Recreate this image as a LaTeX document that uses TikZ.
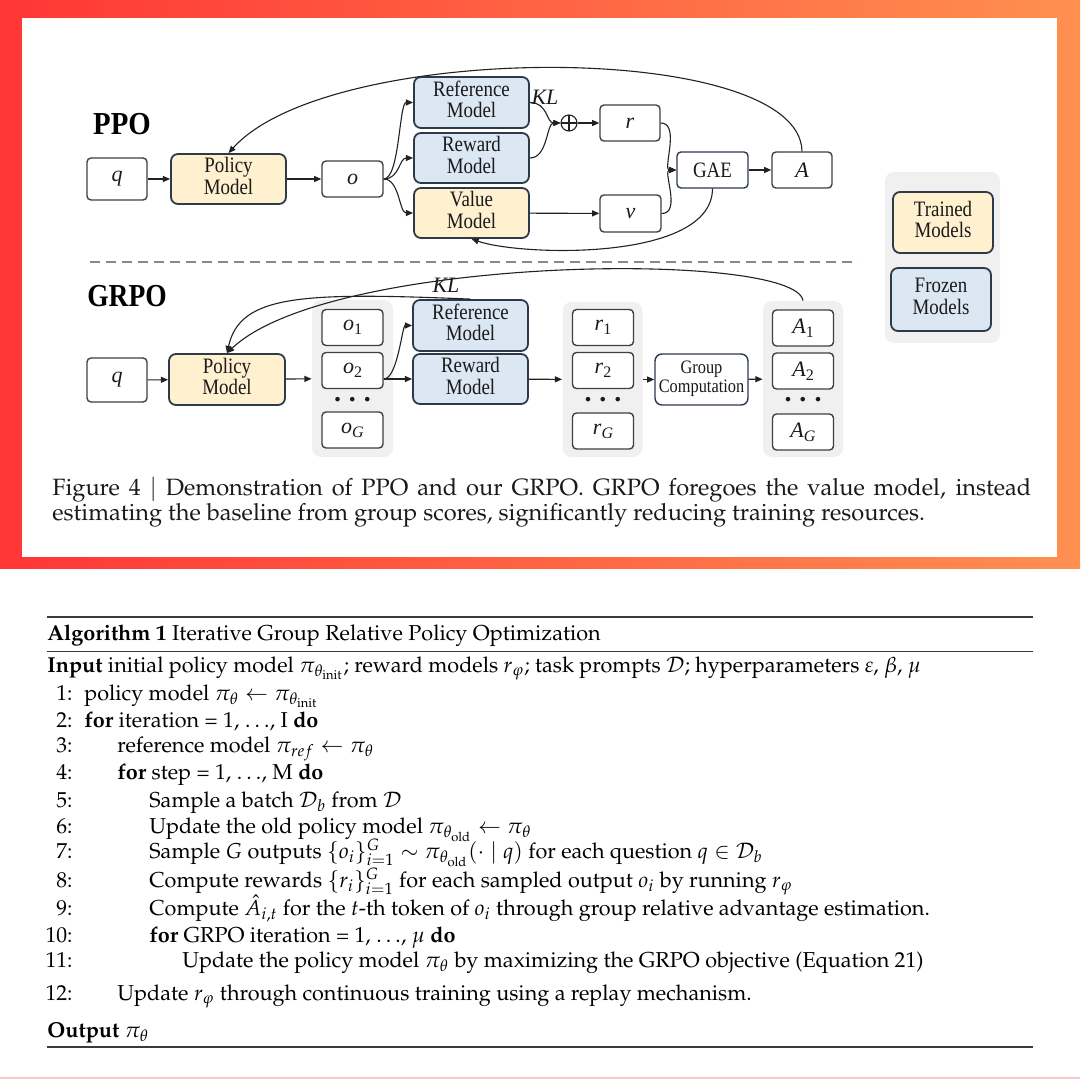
\documentclass[tikz,border=0pt]{standalone}
\usepackage{mathpazo}
\usepackage[no-math]{fontspec}
\setmainfont{Liberation Serif}
\usetikzlibrary{arrows.meta,calc}
\newcommand\algfont{\fontencoding{OT1}\fontfamily{ppl}\fontsize{10.8}{13}\selectfont}
\newcommand\capfont{\fontencoding{OT1}\fontfamily{ppl}\fontsize{11.8}{12.5}\selectfont}
\newcommand\sqz[2][0.86]{\scalebox{#1}[1]{#2}}
\newcommand\stk[1]{\begin{tabular}{@{}c@{}}#1\end{tabular}}
\newcommand\dg{\fontsize{11}{10.5}\selectfont}
\newcommand\sbs[2]{\textit{#1}\raisebox{-0.4ex}{\fontsize{8}{8}\selectfont #2}}
\definecolor{frameRed}{HTML}{FF3636}
\definecolor{frameOrange}{HTML}{FF9050}
\definecolor{trainedFill}{HTML}{FFF0CF}
\definecolor{frozenFill}{HTML}{DCE7F4}
\definecolor{boxBorder}{HTML}{2E3A4A}
\definecolor{smallBorder}{HTML}{404040}
\definecolor{panelGray}{HTML}{F0F0F0}
\definecolor{dashGray}{HTML}{8A8A8A}
\definecolor{ruleInk}{HTML}{3A3A3A}
\definecolor{arrowInk}{HTML}{222222}
\definecolor{inkText}{HTML}{1A1A1A}
\definecolor{pinkLine}{HTML}{F6CACA}
\tikzset{
  dims/.style 2 args={minimum width=#1*0.5pt, minimum height=#2*0.5pt},
  modelbox/.style={draw=boxBorder, line width=0.9pt, rounded corners=3.5pt, inner sep=0pt, align=center, font=\dg, text=inkText},
  trained/.style={modelbox, fill=trainedFill},
  frozen/.style={modelbox, fill=frozenFill},
  whitemodel/.style={modelbox, fill=white, line width=0.7pt},
  smallbox/.style={draw=smallBorder, line width=0.7pt, rounded corners=2pt, fill=white, inner sep=0pt, font=\fontsize{11}{11}\selectfont, text=inkText, dims={61}{36}},
  panel/.style={fill=panelGray, rounded corners=4.5pt, inner sep=0pt, draw=none},
  arr/.style={draw=arrowInk, line width=0.55pt, -{Triangle[length=3.6pt,width=3pt]}},
  conn/.style={draw=arrowInk, line width=0.55pt},
  dotsnode/.style={inner sep=0pt, font=\fontsize{14}{14}\selectfont\bfseries, text=inkText},
  heading/.style={inner sep=0pt, font=\fontsize{16}{16}\selectfont\bfseries, text=black},
  kllabel/.style={inner sep=0pt, font=\fontsize{11}{11}\selectfont\itshape, text=inkText},
  oplusnode/.style={draw=arrowInk, line width=0.55pt, circle, minimum size=8pt, inner sep=0pt,
    path picture={\draw[arrowInk, line width=0.55pt] (path picture bounding box.north) -- (path picture bounding box.south) (path picture bounding box.west) -- (path picture bounding box.east);}},
  algo/.style={anchor=base west, inner sep=0pt, font=\algfont, text=black},
  lnum/.style={anchor=base east, inner sep=0pt, font=\algfont, text=black},
}
\newcommand\dotstext{.\hspace{4pt}.\hspace{4pt}.}
\begin{document}
\begin{tikzpicture}[x=0.5pt,y=-0.5pt]
\useasboundingbox (0,0) rectangle (1080,1080);
% background frame
\shade[left color=frameRed, right color=frameOrange] (0,0) rectangle (1080,569);
\fill[white] (22,18) rectangle (1057,557);
\fill[white] (0,569) rectangle (1080,1080);
\draw[pinkLine, line width=1pt] (0,1078) -- (1080,1078);

% ================= PPO =================
\node[heading] (ppolabel) at (122,124) {\sqz[0.9]{PPO}};
\node[smallbox, dims={60}{42}] (q1) at (117,179) {\textit{q}};
\node[trained, dims={115}{50}] (pol1) at (228.5,179) {\sqz{\stk{Policy\\Model}}};
\node[smallbox] (o) at (352.5,179) {\textit{o}};
\node[frozen, dims={115}{51}] (ref1) at (471.5,102.5) {\sqz{\stk{Reference\\Model}}};
\node[frozen, dims={115}{50}] (rew1) at (471.5,158) {\sqz{\stk{Reward\\Model}}};
\node[trained, dims={115}{50}] (val1) at (471.5,213) {\sqz{\stk{Value\\Model}}};
\node[kllabel] (kl1) at (545,97) {KL};
\node[oplusnode] (plus) at (569,123) {};
\node[smallbox, dims={60}{36}] (r) at (630,123) {\textit{r}};
\node[smallbox, dims={61}{37}] (v) at (630.5,213.5) {\textit{v}};
\node[whitemodel, dims={71}{36}, rounded corners=2pt] (gae) at (712.5,170) {\sqz{GAE}};
\node[smallbox, dims={60}{36}] (A) at (802,170) {\textit{A}};

\draw[arr] (q1) -- (pol1);
\draw[arr] (pol1) -- (o);
\draw[arr] (o.east) .. controls +(16,0) and +(-14,0) .. (ref1.west);
\draw[arr] (o.east) .. controls +(16,0) and +(-14,0) .. (rew1.west);
\draw[arr] (o.east) .. controls +(16,0) and +(-14,0) .. (val1.west);
\draw[arr] (ref1.east) .. controls +(18,0) and +(-14,0) .. (plus.west);
\draw[arr] (rew1.east) .. controls +(18,0) and +(-14,0) .. (plus.west);
\draw[arr] (plus) -- (r);
\draw[arr] (val1) -- (v);
\draw[arr] (r.east) .. controls +(20,0) and +(-14,0) .. (gae.west);
\draw[arr] (v.east) .. controls +(20,0) and +(-14,0) .. (gae.west);
\draw[arr] (gae) -- (A);
\draw[arr] (gae.south) .. controls (712,262) and (520,256) .. (val1.south);
\draw[arr] (A.north) .. controls (800,40) and (330,40) .. (pol1.north);

% separator
\draw[dashGray, line width=1pt, dash pattern=on 5pt off 3pt] (90,262) -- (858,262);

% ================= GRPO =================
\node[heading] (grpolabel) at (127,296) {\sqz{GRPO}};
\node[smallbox, dims={60}{44}] (q2) at (117,380) {\textit{q}};
\node[trained, dims={116}{51}] (pol2) at (227,379.5) {\sqz{\stk{Policy\\Model}}};

\node[panel, dims={81}{157}] (opanel) at (352.5,378.5) {};
\node[smallbox] (o1) at (352.5,327.5) {\sbs{o}{1}};
\node[smallbox] (o2) at (352.5,370.5) {\sbs{o}{2}};
\node[dotsnode] (odots) at (352.5,400) {\dotstext};
\node[smallbox] (oG) at (352.5,430) {\sbs{o}{\textit{G}}};

\node[frozen, dims={115}{51}] (ref2) at (470.5,325.5) {\sqz{\stk{Reference\\Model}}};
\node[frozen, dims={115}{50}] (rew2) at (470.5,379) {\sqz{\stk{Reward\\Model}}};
\node[kllabel] (kl2) at (446,285) {KL};

\node[panel, dims={80}{155}] (rpanel) at (602.5,379.5) {};
\node[smallbox] (r1) at (603,327.5) {\sbs{r}{1}};
\node[smallbox] (r2) at (603,370.5) {\sbs{r}{2}};
\node[dotsnode] (rdots) at (603,400) {\dotstext};
\node[smallbox] (rG) at (603,431) {\sbs{r}{\textit{G}}};

\node[whitemodel, dims={93}{51}, font=\fontsize{9.5}{9.5}\selectfont] (group) at (701.5,379.5) {\sqz{\stk{Group\\Computation}}};

\node[panel, dims={80}{156}] (apanel) at (803,379) {};
\node[smallbox] (A1) at (803,328) {\sbs{A}{1}};
\node[smallbox] (A2) at (803,371) {\sbs{A}{2}};
\node[dotsnode] (adots) at (803,400) {\dotstext};
\node[smallbox] (AG) at (803,432) {\sbs{A}{\textit{G}}};

\draw[arr] (q2) -- (pol2);
\draw[arr] (pol2) -- (opanel);
\draw[arr] (o2.east |- rew2.west) -- (rew2.west);
\draw[arr] (o2.east |- rew2.west) .. controls +(14,0) and +(-10,0) .. (ref2.west);
\draw[arr] (rew2) -- (rpanel);
\draw[arr] (rpanel) -- (group);
\draw[arr] (group) -- (apanel);
\draw[arr] (ref2.north) .. controls (300,292) and (240,295) .. (pol2.north);
\draw[arr] (apanel.north) .. controls (795,250) and (330,255) .. (pol2.north);

% legend
\node[panel, dims={115}{171}] (legend) at (942.5,257.5) {};
\node[trained, dims={100}{61}] (trainedkey) at (943,222.5) {\sqz{\stk{Trained\\Models}}};
\node[frozen, dims={100}{63}] (frozenkey) at (941,299.5) {\sqz{\stk{Frozen\\Models}}};

% caption
\node[anchor=base west, inner sep=0pt, font=\capfont, text=inkText] (cap1) at (52,495)
  {\makebox[489.5pt][s]{Figure 4 $\vert$ Demonstration of PPO and our GRPO. GRPO foregoes the value model, instead}};
\node[anchor=base west, inner sep=0pt, font=\capfont, text=inkText] (cap2) at (52,520)
  {estimating the baseline from group scores, significantly reducing training resources.};

% ================= Algorithm =================
\draw[ruleInk, line width=1pt] (47,617) -- (1033,617);
\draw[ruleInk, line width=0.5pt] (47,651) -- (1033,651);
\draw[ruleInk, line width=0.8pt] (47,1047) -- (1033,1047);

\node[algo] (algtitle) at (47,640) {\textbf{Algorithm 1} Iterative Group Relative Policy Optimization};
\node[algo] (alginput) at (47,672) {\textbf{Input} initial policy model $\pi_{\theta_{\mathrm{init}}}$; reward models $r_{\varphi}$; task prompts $\mathcal{D}$; hyperparameters $\varepsilon$, $\beta$, $\mu$};

\node[lnum] (n1) at (73,700) {1:};
\node[algo] (l1) at (84,700) {policy model $\pi_\theta \leftarrow \pi_{\theta_{\mathrm{init}}}$};
\node[lnum] (n2) at (73,727) {2:};
\node[algo] (l2) at (84,727) {\textbf{for} iteration = 1, $\ldots$, I \textbf{do}};
\node[lnum] (n3) at (73,752) {3:};
\node[algo] (l3) at (117,752) {reference model $\pi_{ref} \leftarrow \pi_\theta$};
\node[lnum] (n4) at (73,779) {4:};
\node[algo] (l4) at (117,779) {\textbf{for} step = 1, $\ldots$, M \textbf{do}};
\node[lnum] (n5) at (73,807) {5:};
\node[algo] (l5) at (149,807) {Sample a batch $\mathcal{D}_b$ from $\mathcal{D}$};
\node[lnum] (n6) at (73,833) {6:};
\node[algo] (l6) at (149,833) {Update the old policy model $\pi_{\theta_{\mathrm{old}}} \leftarrow \pi_\theta$};
\node[lnum] (n7) at (73,858) {7:};
\node[algo] (l7) at (149,858) {Sample $G$ outputs $\{o_i\}_{i=1}^{G} \sim \pi_{\theta_{\mathrm{old}}}(\cdot \mid q)$ for each question $q \in \mathcal{D}_b$};
\node[lnum] (n8) at (73,887) {8:};
\node[algo] (l8) at (149,887) {Compute rewards $\{r_i\}_{i=1}^{G}$ for each sampled output $o_i$ by running $r_{\varphi}$};
\node[lnum] (n9) at (73,915) {9:};
\node[algo] (l9) at (149,915) {Compute $\hat{A}_{i,t}$ for the $t$-th token of $o_i$ through group relative advantage estimation.};
\node[lnum] (n10) at (73,942) {10:};
\node[algo] (l10) at (149,942) {\textbf{for} GRPO iteration = 1, $\ldots$, $\mu$ \textbf{do}};
\node[lnum] (n11) at (73,967) {11:};
\node[algo] (l11) at (182,967) {Update the policy model $\pi_\theta$ by maximizing the GRPO objective (Equation 21)};
\node[lnum] (n12) at (73,1000) {12:};
\node[algo] (l12) at (117,1000) {Update $r_{\varphi}$ through continuous training using a replay mechanism.};
\node[algo] (algoutput) at (47,1037) {\textbf{Output} $\pi_\theta$};
\end{tikzpicture}
\end{document}
